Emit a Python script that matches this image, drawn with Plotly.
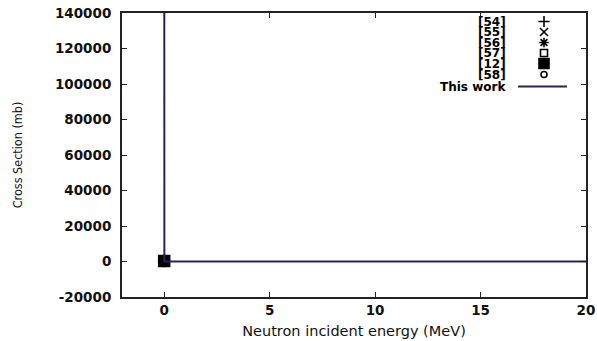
import plotly.graph_objects as go

# "This work" evaluated cross section (MeV, mb)
energy_this = [1e-9, 1e-8, 1e-7, 1e-6, 1e-5, 1e-4, 1e-3, 0.01, 0.1, 0.5, 1, 2, 5, 10, 15, 20]
xs_this = [300000, 95000, 30000, 9500, 3000, 950, 300, 95, 30, 14, 10, 7, 5, 4, 3, 3]

# experimental points (MeV, mb)
exp_labels = ["[54]", "[55]", "[56]", "[57]", "[12]", "[58]"]
exp_energy = [[2.53e-8], [2.53e-8], [2.53e-8], [2.53e-8], [2.53e-8], [2.53e-8]]
exp_xs = [[300], [280], [310], [290], [300], [305]]
exp_symbols = ["cross-thin-open", "x-thin-open", "asterisk-open", "square-open", "square", "circle-open"]
exp_sizes = [9, 9, 9, 8, 11, 7]

key_labels = exp_labels + ["This work"]

x_ticks = [0, 5, 10, 15, 20]
y_ticks = [-20000, 0, 20000, 40000, 60000, 80000, 100000, 120000, 140000]

line_col = "#24245e"
font_main = "DejaVu Sans"

fig = go.Figure()

# experimental data ([12] drawn last so it sits on top)
order = [0, 1, 2, 3, 5, 4]
for i in order:
    fig.add_trace(go.Scatter(
        x=exp_energy[i], y=exp_xs[i], mode="markers", name=exp_labels[i],
        marker=dict(symbol=exp_symbols[i], size=exp_sizes[i], color="black",
                    line=dict(color="black", width=1.5)),
        showlegend=False))

fig.add_trace(go.Scatter(
    x=energy_this, y=xs_this, mode="lines", name="This work",
    line=dict(color=line_col, width=2), showlegend=False))

# key (gnuplot style: label then sample), drawn in an overlay frame
key_rows = [8.5, 19, 29.5, 40, 50.5, 61.5, 73.5]
key_sym_x = 422
key_text_x = 386
for i, lab in enumerate(exp_labels):
    fig.add_trace(go.Scatter(
        x=[key_sym_x], y=[key_rows[i]], xaxis="x2", yaxis="y2", mode="markers",
        marker=dict(symbol=exp_symbols[i], size=exp_sizes[i] - 1, color="black",
                    line=dict(color="black", width=1.6)),
        showlegend=False, hoverinfo="skip"))
fig.add_trace(go.Scatter(
    x=[396, 445], y=[key_rows[6], key_rows[6]], xaxis="x2", yaxis="y2", mode="lines",
    line=dict(color=line_col, width=2), showlegend=False, hoverinfo="skip"))
for i, lab in enumerate(key_labels):
    fig.add_annotation(x=key_text_x, y=key_rows[i], xref="x2", yref="y2", text=lab,
                       showarrow=False, xanchor="right", yanchor="middle",
                       font=dict(family=font_main, size=12, color="black", weight="bold"))

axis_common = dict(showgrid=False, zeroline=False, showline=True, linecolor="#222222",
                   linewidth=2, mirror="ticks", ticks="inside", ticklen=5, tickwidth=1,
                   tickcolor="#222222", automargin=False,
                   tickfont=dict(family=font_main, size=13.5, color="#111111", weight="bold"))

fig.update_layout(
    width=597, height=341,
    margin=dict(l=122, r=11, t=13, b=44, autoexpand=False),
    paper_bgcolor="white", plot_bgcolor="white",
    xaxis=dict(range=[-2, 20], tickvals=x_ticks, ticktext=[str(v) for v in x_ticks],
               title=dict(text="Neutron incident energy (MeV)", standoff=9,
                          font=dict(family=font_main, size=14.5, color="#111111")),
               **axis_common),
    yaxis=dict(range=[-20000, 140000], tickvals=y_ticks, ticktext=[str(v) for v in y_ticks],
               ticklabelstandoff=6,
               title=dict(text="Cross Section (mb)", standoff=30,
                          font=dict(family="DejaVu Sans Condensed", size=12.5, color="#111111")),
               **axis_common),
    xaxis2=dict(range=[0, 464], visible=False, overlaying="x", anchor="y2", fixedrange=True),
    yaxis2=dict(range=[284, 0], visible=False, overlaying="y", anchor="x2", fixedrange=True),
)

fig.write_html("out.html")
